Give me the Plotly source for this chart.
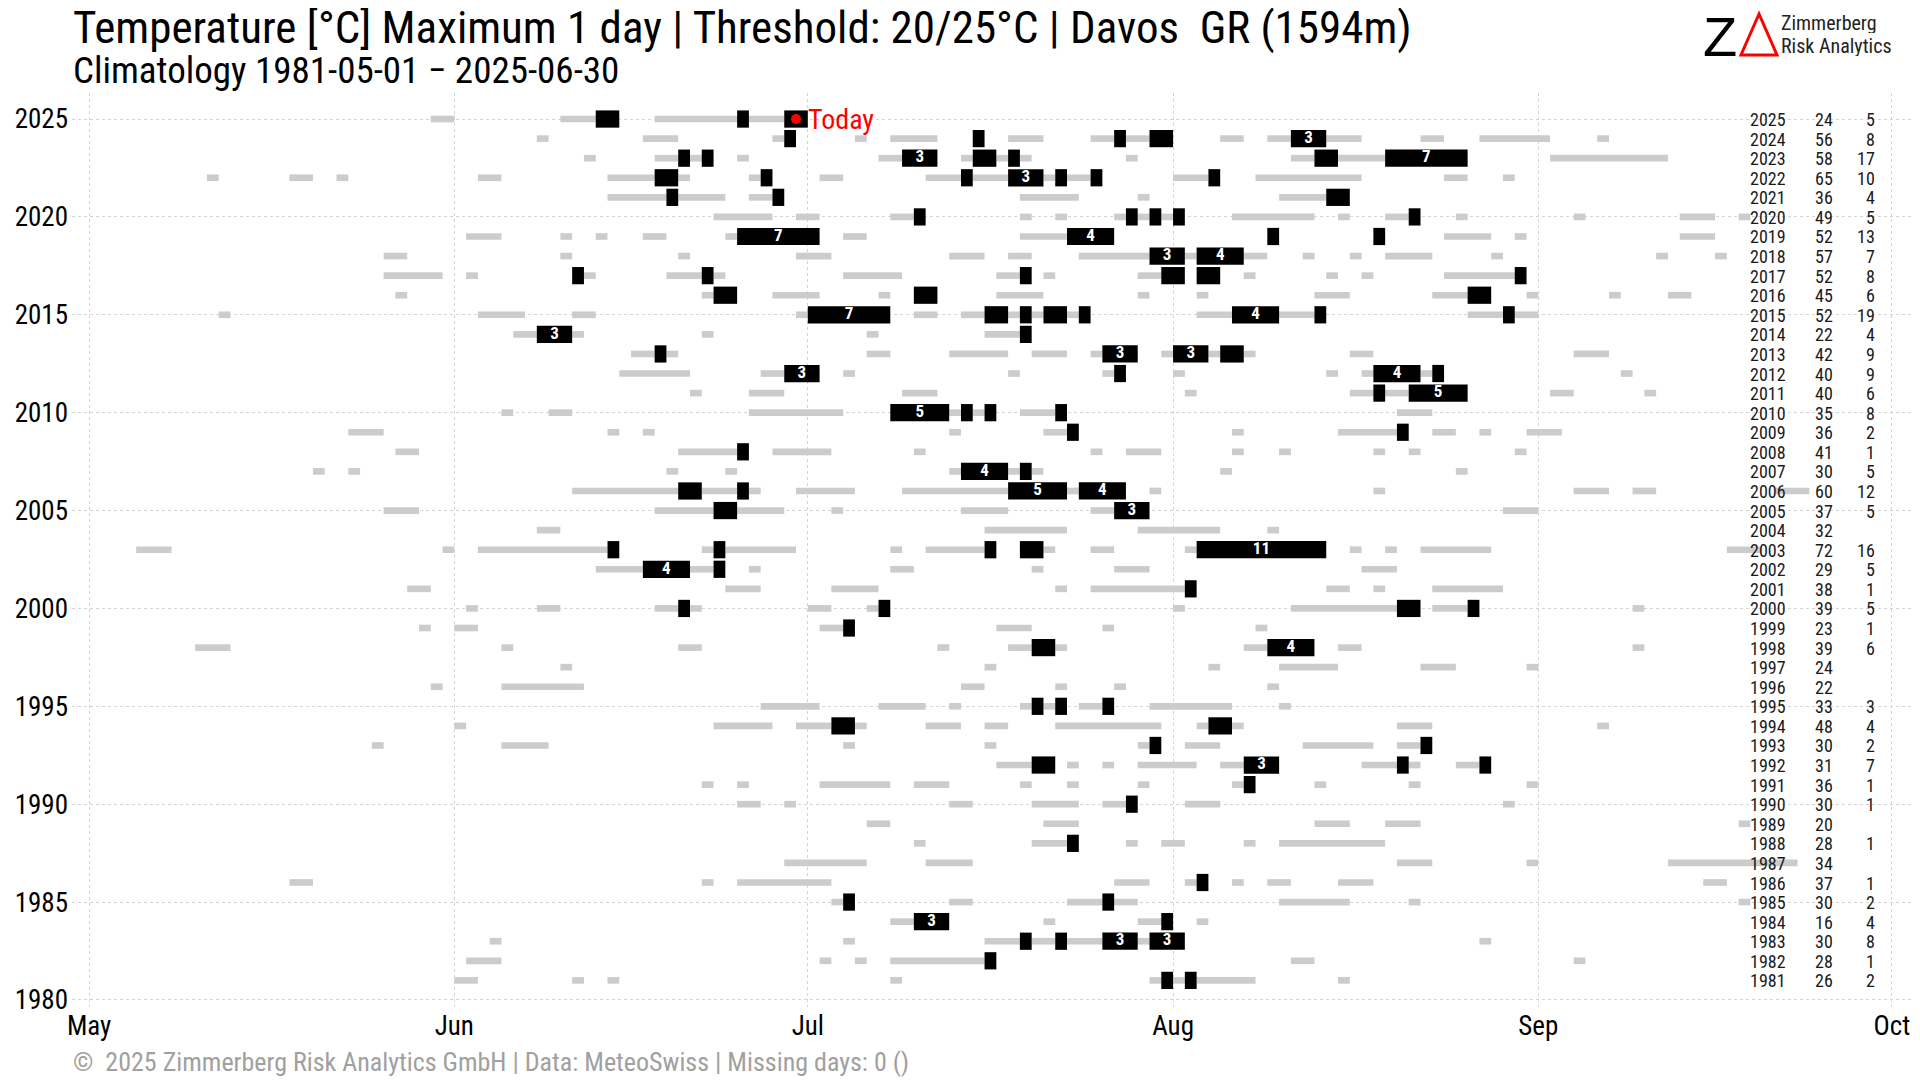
import plotly.graph_objects as go

# ---------------- data ----------------
MONTHS = ["May", "Jun", "Jul", "Aug", "Sep", "Oct"]
MONTH_START = [0, 31, 61, 92, 123, 153]          # day index counted from 1 May
YEAR_TICKS = [1980, 1985, 1990, 1995, 2000, 2005, 2010, 2015, 2020, 2025]

# spells of days with Tmax >= 20 °C : (year, first day index from 1 May, number of days)
warm_spells = [
    (2025, 29, 2), (2025, 40, 3), (2025, 48, 7), (2025, 56, 3),
    (2024, 38, 1), (2024, 47, 3), (2024, 58, 1), (2024, 65, 1), (2024, 68, 4), (2024, 78, 3), (2024, 85, 2), (2024, 88, 2), (2024, 96, 2), (2024, 100, 2), (2024, 105, 3), (2024, 113, 2), (2024, 118, 6), (2024, 128, 1),
    (2023, 42, 1), (2023, 48, 2), (2023, 51, 1), (2023, 55, 1), (2023, 67, 2), (2023, 74, 1), (2023, 77, 1), (2023, 79, 1), (2023, 88, 1), (2023, 102, 2), (2023, 106, 4), (2023, 124, 10),
    (2022, 10, 1), (2022, 17, 2), (2022, 21, 1), (2022, 33, 2), (2022, 44, 4), (2022, 50, 1), (2022, 56, 1), (2022, 62, 2), (2022, 71, 3), (2022, 75, 3), (2022, 81, 1), (2022, 83, 2), (2022, 92, 3), (2022, 99, 9), (2022, 115, 2), (2022, 120, 1),
    (2021, 44, 5), (2021, 50, 4), (2021, 56, 2), (2021, 79, 5), (2021, 89, 1), (2021, 101, 4),
    (2020, 53, 5), (2020, 60, 2), (2020, 68, 2), (2020, 79, 1), (2020, 82, 1), (2020, 87, 1), (2020, 89, 1), (2020, 91, 1), (2020, 97, 7), (2020, 106, 1), (2020, 110, 2), (2020, 116, 1), (2020, 126, 1), (2020, 135, 3), (2020, 140, 1),
    (2019, 32, 3), (2019, 40, 1), (2019, 43, 1), (2019, 47, 2), (2019, 54, 1), (2019, 64, 2), (2019, 79, 4), (2019, 115, 4), (2019, 121, 1), (2019, 135, 3),
    (2018, 25, 2), (2018, 40, 1), (2018, 50, 1), (2018, 60, 3), (2018, 73, 3), (2018, 78, 2), (2018, 84, 6), (2018, 93, 1), (2018, 98, 2), (2018, 103, 1), (2018, 107, 1), (2018, 110, 4), (2018, 119, 1), (2018, 133, 1), (2018, 138, 1),
    (2017, 25, 5), (2017, 32, 1), (2017, 42, 1), (2017, 49, 3), (2017, 53, 1), (2017, 64, 5), (2017, 77, 2), (2017, 81, 1), (2017, 89, 2), (2017, 98, 1), (2017, 105, 1), (2017, 108, 1), (2017, 115, 6),
    (2016, 26, 1), (2016, 52, 1), (2016, 58, 4), (2016, 67, 1), (2016, 77, 4), (2016, 89, 1), (2016, 94, 1), (2016, 104, 3), (2016, 114, 3), (2016, 122, 1), (2016, 129, 1), (2016, 134, 2),
    (2015, 11, 1), (2015, 33, 4), (2015, 41, 2), (2015, 60, 1), (2015, 70, 2), (2015, 74, 2), (2015, 78, 1), (2015, 80, 1), (2015, 83, 1), (2015, 94, 3), (2015, 101, 3), (2015, 117, 3), (2015, 121, 2),
    (2014, 36, 2), (2014, 41, 1), (2014, 52, 1), (2014, 66, 1), (2014, 76, 3),
    (2013, 46, 2), (2013, 49, 1), (2013, 66, 2), (2013, 73, 5), (2013, 80, 3), (2013, 85, 1), (2013, 91, 1), (2013, 95, 1), (2013, 98, 1), (2013, 107, 2), (2013, 126, 3),
    (2012, 45, 6), (2012, 57, 2), (2012, 64, 1), (2012, 78, 1), (2012, 86, 1), (2012, 92, 1), (2012, 105, 1), (2012, 108, 1), (2012, 113, 1), (2012, 130, 1),
    (2011, 51, 1), (2011, 56, 3), (2011, 69, 3), (2011, 93, 1), (2011, 107, 2), (2011, 110, 2), (2011, 124, 2), (2011, 132, 1),
    (2010, 35, 1), (2010, 39, 2), (2010, 56, 8), (2010, 73, 1), (2010, 75, 1), (2010, 79, 3), (2010, 111, 3),
    (2009, 22, 3), (2009, 44, 1), (2009, 47, 1), (2009, 73, 1), (2009, 81, 2), (2009, 97, 1), (2009, 106, 5), (2009, 114, 2), (2009, 118, 1), (2009, 122, 3),
    (2008, 26, 2), (2008, 50, 5), (2008, 58, 5), (2008, 70, 1), (2008, 85, 1), (2008, 88, 3), (2008, 97, 1), (2008, 101, 1), (2008, 109, 1), (2008, 112, 1), (2008, 121, 1),
    (2007, 19, 1), (2007, 22, 1), (2007, 49, 1), (2007, 54, 1), (2007, 73, 1), (2007, 78, 1), (2007, 80, 1), (2007, 96, 1), (2007, 116, 1),
    (2006, 41, 9), (2006, 52, 3), (2006, 56, 1), (2006, 60, 5), (2006, 69, 9), (2006, 83, 1), (2006, 90, 1), (2006, 109, 1), (2006, 126, 3), (2006, 131, 2), (2006, 143, 3),
    (2005, 25, 3), (2005, 48, 5), (2005, 55, 4), (2005, 63, 1), (2005, 74, 4), (2005, 85, 2), (2005, 120, 3),
    (2004, 38, 2), (2004, 76, 7), (2004, 89, 7), (2004, 100, 1),
    (2003, 4, 3), (2003, 30, 1), (2003, 33, 11), (2003, 52, 1), (2003, 54, 6), (2003, 68, 1), (2003, 71, 5), (2003, 81, 1), (2003, 85, 2), (2003, 93, 1), (2003, 107, 1), (2003, 110, 1), (2003, 113, 6), (2003, 139, 3),
    (2002, 43, 4), (2002, 51, 2), (2002, 56, 1), (2002, 68, 2), (2002, 80, 1), (2002, 87, 3), (2002, 108, 3),
    (2001, 27, 2), (2001, 54, 3), (2001, 63, 4), (2001, 82, 1), (2001, 85, 8), (2001, 105, 2), (2001, 109, 1), (2001, 114, 6),
    (2000, 32, 1), (2000, 38, 2), (2000, 48, 2), (2000, 51, 1), (2000, 61, 2), (2000, 66, 1), (2000, 92, 1), (2000, 102, 9), (2000, 114, 3), (2000, 131, 1),
    (1999, 28, 1), (1999, 31, 2), (1999, 62, 2), (1999, 77, 3), (1999, 86, 1), (1999, 99, 1),
    (1998, 9, 3), (1998, 35, 1), (1998, 50, 2), (1998, 72, 1), (1998, 78, 2), (1998, 82, 1), (1998, 98, 2), (1998, 106, 2), (1998, 131, 1),
    (1997, 40, 1), (1997, 76, 1), (1997, 95, 1), (1997, 101, 5), (1997, 113, 3), (1997, 122, 1),
    (1996, 29, 1), (1996, 35, 7), (1996, 74, 2), (1996, 82, 1), (1996, 87, 1), (1996, 100, 1),
    (1995, 57, 5), (1995, 67, 4), (1995, 73, 1), (1995, 79, 1), (1995, 81, 1), (1995, 84, 2), (1995, 90, 7), (1995, 101, 1),
    (1994, 31, 1), (1994, 53, 5), (1994, 60, 3), (1994, 65, 1), (1994, 71, 3), (1994, 76, 2), (1994, 82, 9), (1994, 94, 1), (1994, 97, 1), (1994, 111, 3), (1994, 128, 1),
    (1993, 24, 1), (1993, 35, 4), (1993, 64, 1), (1993, 76, 1), (1993, 89, 1), (1993, 93, 3), (1993, 103, 6), (1993, 111, 2),
    (1992, 77, 3), (1992, 83, 1), (1992, 86, 1), (1992, 89, 5), (1992, 96, 2), (1992, 108, 3), (1992, 112, 1), (1992, 116, 2),
    (1991, 52, 1), (1991, 55, 1), (1991, 62, 6), (1991, 70, 3), (1991, 79, 1), (1991, 83, 1), (1991, 89, 1), (1991, 97, 1), (1991, 104, 1), (1991, 112, 1), (1991, 122, 1),
    (1990, 55, 2), (1990, 59, 1), (1990, 73, 2), (1990, 80, 4), (1990, 86, 2), (1990, 93, 3), (1990, 120, 1),
    (1989, 66, 2), (1989, 81, 3), (1989, 104, 3), (1989, 110, 3), (1989, 140, 1),
    (1988, 70, 1), (1988, 80, 3), (1988, 88, 1), (1988, 91, 2), (1988, 98, 1), (1988, 101, 9),
    (1987, 59, 7), (1987, 71, 4), (1987, 111, 3), (1987, 122, 1), (1987, 134, 11),
    (1986, 17, 2), (1986, 52, 1), (1986, 55, 8), (1986, 87, 3), (1986, 93, 1), (1986, 97, 1), (1986, 100, 2), (1986, 106, 3), (1986, 137, 2),
    (1985, 63, 1), (1985, 73, 2), (1985, 83, 3), (1985, 87, 2), (1985, 101, 6), (1985, 112, 1), (1985, 140, 1),
    (1984, 68, 2), (1984, 81, 1), (1984, 89, 2), (1984, 94, 1),
    (1983, 34, 1), (1983, 64, 1), (1983, 76, 3), (1983, 80, 2), (1983, 83, 3), (1983, 89, 1), (1983, 118, 1),
    (1982, 32, 3), (1982, 62, 1), (1982, 65, 1), (1982, 68, 8), (1982, 102, 2), (1982, 126, 1),
    (1981, 31, 2), (1981, 41, 1), (1981, 44, 1), (1981, 68, 1), (1981, 90, 1), (1981, 92, 1), (1981, 94, 5), (1981, 106, 1),
]

# spells of days with Tmax >= 25 °C : (year, first day index from 1 May, number of days)
hot_spells = [
    (2025, 43, 2), (2025, 55, 1), (2025, 59, 2),
    (2024, 59, 1), (2024, 75, 1), (2024, 87, 1), (2024, 90, 2), (2024, 102, 3),
    (2023, 50, 1), (2023, 52, 1), (2023, 69, 3), (2023, 75, 2), (2023, 78, 1), (2023, 104, 2), (2023, 110, 7),
    (2022, 48, 2), (2022, 57, 1), (2022, 74, 1), (2022, 78, 3), (2022, 82, 1), (2022, 85, 1), (2022, 95, 1),
    (2021, 49, 1), (2021, 58, 1), (2021, 105, 2),
    (2020, 70, 1), (2020, 88, 1), (2020, 90, 1), (2020, 92, 1), (2020, 112, 1),
    (2019, 55, 7), (2019, 83, 4), (2019, 100, 1), (2019, 109, 1),
    (2018, 90, 3), (2018, 94, 4),
    (2017, 41, 1), (2017, 52, 1), (2017, 79, 1), (2017, 91, 2), (2017, 94, 2), (2017, 121, 1),
    (2016, 53, 2), (2016, 70, 2), (2016, 117, 2),
    (2015, 61, 7), (2015, 76, 2), (2015, 79, 1), (2015, 81, 2), (2015, 84, 1), (2015, 97, 4), (2015, 104, 1), (2015, 120, 1),
    (2014, 38, 3), (2014, 79, 1),
    (2013, 48, 1), (2013, 86, 3), (2013, 92, 3), (2013, 96, 2),
    (2012, 59, 3), (2012, 87, 1), (2012, 109, 4), (2012, 114, 1),
    (2011, 109, 1), (2011, 112, 5),
    (2010, 68, 5), (2010, 74, 1), (2010, 76, 1), (2010, 82, 1),
    (2009, 83, 1), (2009, 111, 1),
    (2008, 55, 1),
    (2007, 74, 4), (2007, 79, 1),
    (2006, 50, 2), (2006, 55, 1), (2006, 78, 5), (2006, 84, 4),
    (2005, 53, 2), (2005, 87, 3),
    (2003, 44, 1), (2003, 53, 1), (2003, 76, 1), (2003, 79, 2), (2003, 94, 11),
    (2002, 47, 4), (2002, 53, 1),
    (2001, 93, 1),
    (2000, 50, 1), (2000, 67, 1), (2000, 111, 2), (2000, 117, 1),
    (1999, 64, 1),
    (1998, 80, 2), (1998, 100, 4),
    (1995, 80, 1), (1995, 82, 1), (1995, 86, 1),
    (1994, 63, 2), (1994, 95, 2),
    (1993, 90, 1), (1993, 113, 1),
    (1992, 80, 2), (1992, 98, 3), (1992, 111, 1), (1992, 118, 1),
    (1991, 98, 1),
    (1990, 88, 1),
    (1988, 83, 1),
    (1986, 94, 1),
    (1985, 64, 1), (1985, 86, 1),
    (1984, 70, 3), (1984, 91, 1),
    (1983, 79, 1), (1983, 82, 1), (1983, 86, 3), (1983, 90, 3),
    (1982, 76, 1),
    (1981, 91, 1), (1981, 93, 1),
]

table_years = [2025, 2024, 2023, 2022, 2021, 2020, 2019, 2018, 2017, 2016, 2015, 2014, 2013, 2012, 2011,
               2010, 2009, 2008, 2007, 2006, 2005, 2004, 2003, 2002, 2001, 2000, 1999, 1998, 1997, 1996,
               1995, 1994, 1993, 1992, 1991, 1990, 1989, 1988, 1987, 1986, 1985, 1984, 1983, 1982, 1981]
days_ge20 = [24, 56, 58, 65, 36, 49, 52, 57, 52, 45, 52, 22, 42, 40, 40,
             35, 36, 41, 30, 60, 37, 32, 72, 29, 38, 39, 23, 39, 24, 22,
             33, 48, 30, 31, 36, 30, 20, 28, 34, 37, 30, 16, 30, 28, 26]
days_ge25 = [5, 8, 17, 10, 4, 5, 13, 7, 8, 6, 19, 4, 9, 9, 6,
             8, 2, 1, 5, 12, 5, None, 16, 5, 1, 5, 1, 6, None, None,
             3, 4, 2, 7, 1, 1, None, 1, None, 1, 2, 4, 8, 1, 2]

today_year, today_day = 2025, 60   # 2025-06-30

TITLE = "Temperature [°C] Maximum 1 day | Threshold: 20/25°C | Davos  GR (1594m)"
SUBTITLE = "Climatology 1981-05-01 \u2212 2025-06-30"
FOOTER = "\u00a9  2025 Zimmerberg Risk Analytics GmbH | Data: MeteoSwiss | Missing days: 0 ()"

# ---------------- layout helpers ----------------
OFF = 8                      # page body margin of the html file
W, H = 1920 - OFF, 1080 - OFF
ML, MR, MT, MB = 72 - OFF, 7, 93 - OFF, 73
PW, PH = W - ML - MR, H - MT - MB
def px(x):  # screen pixel x -> paper
    return (x - OFF - ML) / PW
def py(y):  # screen pixel y -> paper
    return (H - MB - (y - OFF)) / PH

FONT = "Roboto Condensed, Liberation Sans Narrow, Arial Narrow, sans-serif"

fig = go.Figure()

wy, ws, wn = zip(*warm_spells)
fig.add_trace(go.Bar(orientation="h", y=wy, x=wn, base=ws, width=0.34,
                     marker=dict(color="#cccccc", line=dict(width=0)),
                     hoverinfo="skip", showlegend=False))
hy, hs, hn = zip(*hot_spells)
fig.add_trace(go.Bar(orientation="h", y=hy, x=hn, base=hs, width=0.88,
                     marker=dict(color="black", line=dict(width=0)),
                     hoverinfo="skip", showlegend=False))

lab = [(y, s + n / 2, str(n)) for (y, s, n) in hot_spells if n >= 3]
fig.add_trace(go.Scatter(x=[l[1] for l in lab], y=[l[0] for l in lab], text=[l[2] for l in lab],
                         mode="text", textposition="middle center",
                         textfont=dict(color="white", size=17, family=FONT, weight="bold"),
                         hoverinfo="skip", showlegend=False))

fig.add_trace(go.Scatter(x=[today_day], y=[today_year], mode="markers",
                         marker=dict(color="red", size=10), hoverinfo="skip", showlegend=False))

ann = []
ann.append(dict(x=today_day, y=today_year, xref="x", yref="y", text="Today", showarrow=False,
                xanchor="left", yanchor="middle", xshift=10, font=dict(color="red", size=28, family=FONT)))

TF = dict(size=18, family=FONT, color="#1a1a1a")
for yr, a, b in zip(table_years, days_ge20, days_ge25):
    ann.append(dict(x=px(1748), y=yr, xref="paper", yref="y", text=str(yr), showarrow=False,
                    xanchor="left", yanchor="middle", height=18, font=TF))
    ann.append(dict(x=px(1813), y=yr, xref="paper", yref="y", text=str(a), showarrow=False,
                    xanchor="left", yanchor="middle", height=18, font=TF))
    if b is not None:
        ann.append(dict(x=px(1877), y=yr, xref="paper", yref="y", text=str(b), showarrow=False,
                        xanchor="right", yanchor="middle", height=18, font=TF))

ann.append(dict(x=px(71), y=py(28), xref="paper", yref="paper", text=TITLE, showarrow=False,
                xanchor="left", yanchor="middle", font=dict(size=45, family=FONT, color="black")))
ann.append(dict(x=px(71), y=py(71), xref="paper", yref="paper", text=SUBTITLE, showarrow=False,
                xanchor="left", yanchor="middle", font=dict(size=37, family=FONT, color="black")))
ann.append(dict(x=px(71), y=py(1062), xref="paper", yref="paper", text=FOOTER, showarrow=False,
                xanchor="left", yanchor="middle", font=dict(size=26, family=FONT, color="#a0a0a0")))

# logo
ann.append(dict(x=px(1720), y=py(36), xref="paper", yref="paper", text="Z", showarrow=False,
                xanchor="center", yanchor="middle", font=dict(size=56, family="Liberation Sans", color="black")))
ann.append(dict(x=px(1779), y=py(23), xref="paper", yref="paper", text="Zimmerberg", showarrow=False,
                xanchor="left", yanchor="middle", height=20, font=dict(size=20, family=FONT, color="#222")))
ann.append(dict(x=px(1779), y=py(46), xref="paper", yref="paper", text="Risk Analytics", showarrow=False,
                xanchor="left", yanchor="middle", height=20, font=dict(size=20, family=FONT, color="#222")))

shapes = [dict(type="path", xref="paper", yref="paper",
               path=f"M {px(1759)} {py(14)} L {px(1741)} {py(55)} L {px(1777)} {py(55)} Z",
               line=dict(color="red", width=3), fillcolor="rgba(0,0,0,0)")]

grid = dict(showgrid=True, gridcolor="#d4d4d4", gridwidth=1, griddash="dot",
            zeroline=False, showline=False, ticks="")
fig.update_layout(
    width=W, height=H, margin=dict(l=ML, r=MR, t=MT, b=MB),
    paper_bgcolor="white", plot_bgcolor="white", barmode="overlay",
    showlegend=False, annotations=ann, shapes=shapes,
    font=dict(family=FONT, color="black"),
    xaxis=dict(range=[-1.45, 154.8], tickvals=MONTH_START, ticktext=MONTHS,
               tickfont=dict(size=27, family=FONT, color="black"), **grid),
    yaxis=dict(range=[1979.64, 2026.33], tickvals=YEAR_TICKS, ticklabelstandoff=3,
               tickfont=dict(size=27, family=FONT, color="black"), **grid),
)

fig.write_html("out.html")
